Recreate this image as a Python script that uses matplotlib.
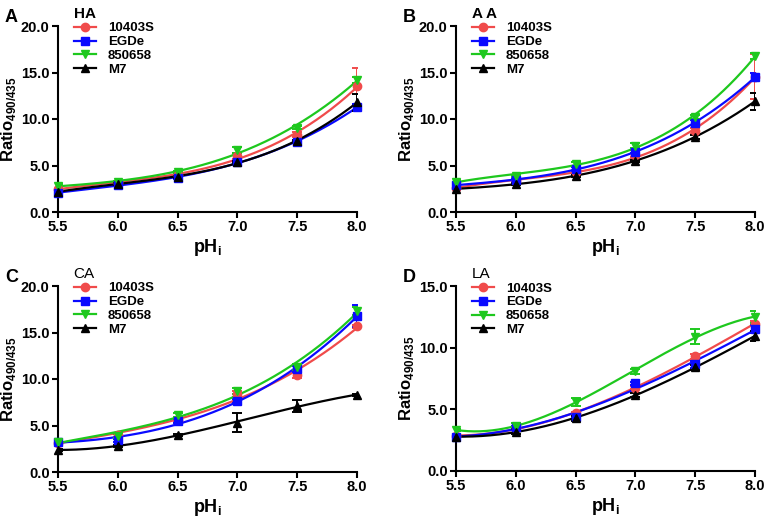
import numpy as np
import matplotlib
matplotlib.use("Agg")
import matplotlib.pyplot as plt

plt.rcParams['font.family'] = ['Liberation Sans', 'DejaVu Sans']
plt.rcParams['font.weight'] = 'bold'

ph = [5.5, 6.0, 6.5, 7.0, 7.5, 8.0]
strains = ['10403S', 'EGDe', '850658', 'M7']

# HA
ha_10403s = [2.48, 3.16, 3.99, 6.0, 8.33, 13.5]
ha_egde = [2.08, 2.87, 3.7, 5.35, 7.58, 11.27]
ha_850658 = [2.8, 3.27, 4.27, 6.68, 9.08, 14.2]
ha_m7 = [2.19, 3.0, 3.8, 5.4, 7.6, 11.8]
ha_err_10403s = [0.2, 0.2, 0.2, 0.3, 0.3, 2.0]
ha_err_egde = [0.1, 0.1, 0.1, 0.1, 0.2, 0.3]
ha_err_850658 = [0.2, 0.1, 0.1, 0.3, 0.2, 0.3]
ha_err_m7 = [0.1, 0.1, 0.1, 0.1, 0.1, 0.9]

# AA
aa_10403s = [2.62, 3.34, 4.27, 6.1, 8.73, 14.54]
aa_egde = [2.9, 3.45, 4.6, 6.5, 9.62, 14.5]
aa_850658 = [3.27, 3.88, 5.13, 7.15, 10.2, 16.8]
aa_m7 = [2.48, 3.0, 3.9, 5.5, 8.1, 11.9]
aa_err_10403s = [0.2, 0.2, 0.2, 0.2, 0.3, 2.4]
aa_err_egde = [0.2, 0.1, 0.2, 0.2, 0.3, 0.4]
aa_err_850658 = [0.2, 0.1, 0.2, 0.3, 0.2, 0.3]
aa_err_m7 = [0.1, 0.1, 0.1, 0.1, 0.2, 0.9]

# CA
ca_10403s = [3.16, 4.0, 5.6, 8.37, 10.45, 15.65]
ca_egde = [3.27, 3.4, 5.5, 7.6, 11.1, 16.8]
ca_850658 = [3.27, 3.9, 6.1, 8.7, 11.3, 17.3]
ca_m7 = [2.37, 2.8, 4.0, 5.3, 7.1, 8.3]
ca_err_10403s = [0.2, 0.2, 0.2, 0.3, 0.3, 0.2]
ca_err_egde = [0.2, 0.2, 0.2, 0.2, 0.3, 1.2]
ca_err_850658 = [0.2, 0.2, 0.2, 0.3, 0.3, 0.4]
ca_err_m7 = [0.1, 0.1, 0.1, 1.0, 0.6, 0.1]

# LA
la_10403s = [2.86, 3.46, 4.7, 6.76, 9.3, 11.95]
la_egde = [2.78, 3.54, 4.4, 7.1, 8.65, 11.5]
la_850658 = [3.32, 3.67, 5.6, 8.1, 10.9, 12.5]
la_m7 = [2.78, 3.2, 4.27, 6.16, 8.4, 10.95]
la_err_10403s = [0.1, 0.1, 0.1, 0.1, 0.2, 0.2]
la_err_egde = [0.1, 0.1, 0.1, 0.1, 0.3, 0.3]
la_err_850658 = [0.1, 0.2, 0.3, 0.2, 0.6, 0.5]
la_err_m7 = [0.1, 0.2, 0.2, 0.2, 0.2, 0.4]

colors = ['#f04b4b', '#0a0aff', '#1ec81e', '#000000']
markers = ['o', 's', 'v', '^']

panels = [
    ('A', 'HA', 'bold', [ha_10403s, ha_egde, ha_850658, ha_m7],
     [ha_err_10403s, ha_err_egde, ha_err_850658, ha_err_m7], 20),
    ('B', 'A A', 'bold', [aa_10403s, aa_egde, aa_850658, aa_m7],
     [aa_err_10403s, aa_err_egde, aa_err_850658, aa_err_m7], 20),
    ('C', 'CA', 'normal', [ca_10403s, ca_egde, ca_850658, ca_m7],
     [ca_err_10403s, ca_err_egde, ca_err_850658, ca_err_m7], 20),
    ('D', 'LA', 'normal', [la_10403s, la_egde, la_850658, la_m7],
     [la_err_10403s, la_err_egde, la_err_850658, la_err_m7], 15),
]

# axes boxes in pixels: left, top, right, bottom
boxes = [(58, 26, 357, 212), (456, 26, 755, 212),
         (58, 286, 357, 472), (456, 286, 755, 471)]

W, H = 767, 520
fig = plt.figure(figsize=(W / 100, H / 100), dpi=100)

xs = np.linspace(5.5, 8.0, 200)

for (letter, title, tw, series, errs, ymax), (l, t, r, b) in zip(panels, boxes):
    ax = fig.add_axes([l / W, 1 - b / H, (r - l) / W, (b - t) / H])
    handles = []
    for vals, err, c, m, name in zip(series, errs, colors, markers, strains):
        coef = np.polyfit(ph, vals, 3)
        ax.plot(xs, np.polyval(coef, xs), color=c, lw=1.6, zorder=3)
        ax.errorbar(ph, vals, yerr=err, fmt='none', ecolor=c, elinewidth=1.4,
                    capsize=3.5, capthick=1.4, zorder=3)
        ax.plot(ph, vals, ls='none', marker=m, color=c, ms=6, zorder=4,
                clip_on=False)
        h, = ax.plot([], [], color=c, marker=m, lw=1.6, ms=6, label=name)
        handles.append(h)
    ax.set_xlim(5.5, 8.0)
    ax.set_ylim(0, ymax)
    ax.set_xticks(ph)
    ax.set_xticklabels(['%.1f' % v for v in ph])
    ax.set_yticks(np.arange(0, ymax + 0.1, 5))
    ax.set_yticklabels(['%.1f' % v for v in np.arange(0, ymax + 0.1, 5)])
    for s in ['top', 'right']:
        ax.spines[s].set_visible(False)
    for s in ['left', 'bottom']:
        ax.spines[s].set_linewidth(1.5)
    ax.tick_params(width=1.5, length=4, labelsize=10.5, pad=2)
    ax.set_xlabel('pH$_\\mathregular{i}$', fontsize=13, fontweight='bold',
                  labelpad=2)
    ax.set_ylabel('Ratio$_\\mathregular{490/435}$', fontsize=12,
                  fontweight='bold', labelpad=2)
    leg = ax.legend(handles=handles, loc='upper left',
                    bbox_to_anchor=(0.03, 1.14), frameon=False,
                    fontsize=9.5, handlelength=1.7, handletextpad=0.9,
                    labelspacing=0.12, borderpad=0, alignment='left',
                    title=title)
    leg.get_title().set_fontsize(11)
    leg.get_title().set_fontweight(tw)
    fig.text((l - 53) / W, 1 - (t - 8) / H, letter, fontsize=13,
             fontweight='bold', va='center')

fig.savefig('out.png', dpi=100)
